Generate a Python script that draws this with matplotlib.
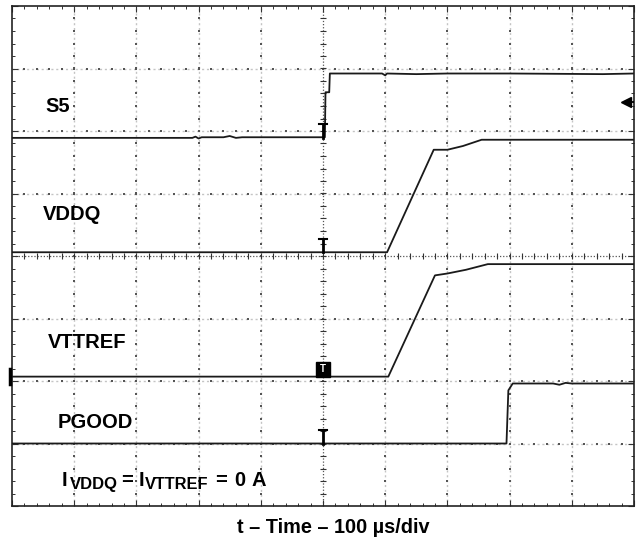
import matplotlib
matplotlib.use("Agg")
import matplotlib.pyplot as plt
import numpy as np

plt.rcParams['font.family'] = ['Liberation Sans', 'DejaVu Sans']

# traces, in scope divisions (x: 0..10, y: 0..8)
s5_x = [0, 2.9, 2.95, 3.0, 3.05, 3.4, 3.5, 3.6, 3.7, 5.03, 5.04, 5.1, 5.11, 5.95, 6.0, 6.03, 6.5, 7.0, 8.0, 9.5, 10]
s5_y = [5.89, 5.89, 5.91, 5.88, 5.90, 5.90, 5.92, 5.89, 5.90, 5.90, 6.62, 6.62, 6.92, 6.92, 6.89, 6.92, 6.91, 6.92, 6.92, 6.91, 6.92]
vddq_x = [0, 6.03, 6.78, 7.0, 7.25, 7.55, 10]
vddq_y = [4.06, 4.06, 5.70, 5.70, 5.76, 5.86, 5.86]
vttref_x = [0, 6.05, 6.8, 7.0, 7.3, 7.65, 10]
vttref_y = [2.07, 2.07, 3.69, 3.72, 3.78, 3.87, 3.87]
pgood_x = [0, 7.95, 7.98, 8.05, 8.7, 8.8, 8.9, 9.0, 10]
pgood_y = [1.0, 1.0, 1.85, 1.96, 1.96, 1.94, 1.97, 1.96, 1.96]

labels = ['S5', 'VDDQ', 'VTTREF', 'PGOOD']
label_x = [0.53, 0.50, 0.57, 0.73]
label_y = [6.3, 4.57, 2.52, 1.25]

# current note: (text, x px, baseline px, size)
note = [('I', 62, 486, 14.5), ('VDDQ', 69.5, 489, 12), ('=', 121.5, 486, 14.5),
        ('I', 139, 486, 14.5), ('VTTREF', 145, 489, 11.8),
        ('=', 215, 486, 14.5), ('0', 234, 486, 14.5), ('A', 251, 486, 14.5)]


def main():
    fig = plt.figure(figsize=(6.42, 5.59), dpi=100)
    ax = fig.add_axes([12/642, 53/559, 622/642, 500/559])
    ax.set_xlim(0, 10)
    ax.set_ylim(0, 8)

    # graticule
    dots = np.arange(0.2, 10, 0.2)
    vdots = np.arange(0.2, 8, 0.2)
    for k in range(1, 10):
        if k == 5:
            continue
        ax.axvline(k, color='#c4c4c4', lw=1.0, ls=(0, (1.5, 2)), zorder=1)
        ax.plot(np.full(vdots.size, k), vdots, ls='none', marker='s', ms=1.8,
                mew=0, color='#555555', zorder=1)
    for k in range(1, 8):
        if k == 4:
            continue
        ax.axhline(k, color='#c4c4c4', lw=1.0, ls=(0, (1.5, 2)), zorder=1)
        ax.plot(dots, np.full(dots.size, k), ls='none', marker='s', ms=1.8,
                mew=0, color='#555555', zorder=1)
    ax.axvline(5, color='#555555', lw=0.9, ls=(0, (1, 1.5)), zorder=1)
    ax.axhline(4, color='#555555', lw=0.9, ls=(0, (1, 1.5)), zorder=1)
    ax.plot(dots, np.full(dots.size, 4.0), ls='none', marker='|', ms=4,
            mew=0.8, color='#333333', zorder=2)
    ax.plot(np.full(vdots.size, 5.0), vdots, ls='none', marker='_', ms=4,
            mew=0.8, color='#333333', zorder=2)

    ax.set_xticks(range(0, 11))
    ax.set_yticks(range(0, 9))
    ax.set_xticks(np.arange(0, 10.01, 0.2), minor=True)
    ax.set_yticks(np.arange(0, 8.01, 0.2), minor=True)
    ax.tick_params(which='both', direction='in', top=True, right=True,
                   labelbottom=False, labelleft=False, color='#333333')
    ax.tick_params(which='major', length=4, width=0.8)
    ax.tick_params(which='minor', length=2.5, width=0.7)
    for sp in ax.spines.values():
        sp.set_linewidth(1.2)
        sp.set_color('#222222')

    # traces
    for xs, ys in [(s5_x, s5_y), (vddq_x, vddq_y), (vttref_x, vttref_y),
                   (pgood_x, pgood_y)]:
        ax.plot(xs, ys, color='#1a1a1a', lw=1.3, zorder=5)

    # channel reference markers at trigger position
    for lev in [s5_y[0], vddq_y[0], pgood_y[0]]:
        ax.plot([5, 5], [lev, lev + 0.22], color='black', lw=2, zorder=6)
        ax.plot([4.93, 5.07], [lev + 0.22, lev + 0.22], color='black', lw=1.5,
                zorder=6)
    ax.add_patch(plt.Rectangle((4.89, vttref_y[0]), 0.225, 0.24,
                               color='black', zorder=6))
    ax.text(5.0, vttref_y[0] + 0.12, 'T', color='white', fontsize=7,
            fontweight='bold', ha='center', va='center', zorder=7)
    ax.plot([-0.03, -0.03], [vttref_y[0] - 0.12, vttref_y[0] + 0.12],
            color='black', lw=2.5, clip_on=False, zorder=6)
    # trigger level arrow
    ax.plot([9.85, 10], [6.47, 6.47], color='black', lw=1.3, zorder=6)
    ax.plot([9.87], [6.47], marker='<', ms=7, color='black', zorder=6)

    for lab, lx, ly in zip(labels, label_x, label_y):
        ax.text(lx, ly, lab, fontsize=14.5, fontweight='bold')
    for txt, px, py, sz in note:
        fig.text(px/642, 1 - py/559, txt, fontsize=sz, fontweight='bold',
                 va='baseline')

    fig.text(333/642, 1 - 533/559, 't \u2013 Time \u2013 100 \u00b5s/div',
             fontsize=14.3, fontweight='bold', ha='center', va='baseline')
    fig.savefig("out.png", dpi=100)
    return


if __name__ == "__main__":
    main()
